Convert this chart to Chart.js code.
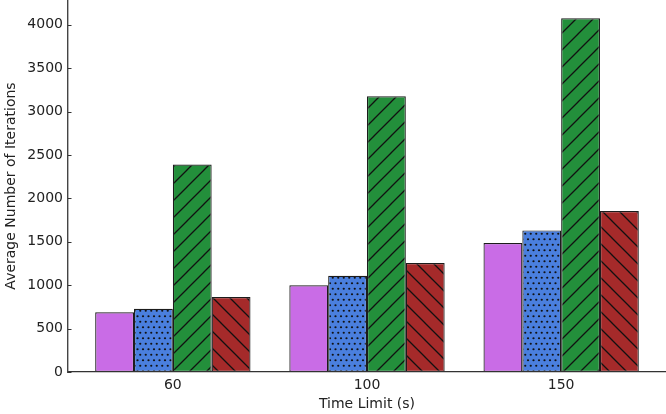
<!DOCTYPE html>
<html>
<head>
<meta charset="utf-8">
<script src="https://cdn.jsdelivr.net/npm/chart.js@4"></script>
<style>
html,body{margin:0;padding:0;background:#fff;}
canvas{display:block;}
</style>
</head>
<body>
<canvas id="c" width="666" height="414"></canvas>
<script>
const categories = ['60', '100', '150'];
const seriesPurple = [687, 998, 1486];
const seriesBlue = [729, 1109, 1631];
const seriesGreen = [2390, 3175, 4074];
const seriesRed = [864, 1256, 1855];
const yTicks = [0, 500, 1000, 1500, 2000, 2500, 3000, 3500, 4000];

function makeTile(w, h, bg, drawFn) {
  const c = document.createElement('canvas');
  c.width = w; c.height = h;
  const g = c.getContext('2d');
  g.fillStyle = bg; g.fillRect(0, 0, w, h);
  drawFn(g, w, h);
  return g.createPattern(c, 'repeat');
}
function diag(bg, forward) {
  const s = 17;
  return makeTile(s, s, bg, (g) => {
    g.strokeStyle = '#111'; g.lineWidth = 1.3;
    g.beginPath();
    for (let k = -1; k <= 1; k++) {
      if (forward) { g.moveTo(-2 + k * s, s + 2); g.lineTo(s + 2 + k * s, -2); }
      else { g.moveTo(-2 + k * s, -2); g.lineTo(s + 2 + k * s, s + 2); }
    }
    g.stroke();
  });
}
function dots(bg) {
  const s = 11;
  return makeTile(s, s, bg, (g) => {
    g.fillStyle = '#111';
    const pts = [[2.75, 2.75], [8.25, 2.75], [0, 8.25], [5.5, 8.25], [11, 8.25]];
    pts.forEach(([x, y]) => { g.beginPath(); g.arc(x, y, 1.1, 0, Math.PI * 2); g.fill(); });
  });
}

const toXY = (arr) => arr.map((v, i) => ({ x: i, y: v }));
const edge = '#1c1c1c';
const ds = (label, data, bg) => ({
  label, data: toXY(data), backgroundColor: bg, borderColor: edge, borderWidth: 1.2,
  borderSkipped: false, categoryPercentage: 0.8, barPercentage: 1.0
});

const innerTicks = {
  id: 'innerTicks',
  afterDraw(chart) {
    const y = chart.scales.y, ctx = chart.ctx;
    ctx.save();
    ctx.strokeStyle = '#333'; ctx.lineWidth = 1;
    y.ticks.forEach((t) => {
      const py = Math.round(y.getPixelForValue(t.value)) + 0.5;
      ctx.beginPath(); ctx.moveTo(y.right, py); ctx.lineTo(y.right + 3.5, py); ctx.stroke();
    });
    ctx.restore();
  }
};

const font = { family: 'DejaVu Sans', size: 14 };
new Chart(document.getElementById('c'), {
  type: 'bar',
  data: {
    datasets: [
      ds('A', seriesPurple, '#c96ce6'),
      ds('B', seriesBlue, dots('#4a7fde')),
      ds('C', seriesGreen, diag('#238f3b', true)),
      ds('D', seriesRed, diag('#a52a2a', false))
    ]
  },
  options: {
    responsive: false,
    animation: false,
    layout: { padding: 0 },
    plugins: { legend: { display: false }, tooltip: { enabled: false } },
    scales: {
      x: {
        type: 'linear', min: -0.54, max: 2.54, offset: false,
        grid: { display: false, drawTicks: false },
        border: { display: true, color: '#333', width: 1.2, z: 1 },
        afterBuildTicks: (s) => { s.ticks = categories.map((c, i) => ({ value: i })); },
        ticks: { font, color: '#222', padding: 5, maxRotation: 0, autoSkip: false,
          callback: (v) => categories[v] },
        title: { display: true, text: 'Time Limit (s)', font, color: '#222', padding: { top: 0, bottom: 1 } },
        afterFit: (s) => { s.height = 42; s.paddingLeft = 0; s.paddingRight = 0; }
      },
      y: {
        type: 'linear', min: 0, max: 4285,
        grid: { display: false, drawTicks: false },
        border: { display: true, color: '#444', width: 1.4, z: 1 },
        afterBuildTicks: (s) => { s.ticks = yTicks.map((v) => ({ value: v })); },
        ticks: { font, color: '#222', padding: 5, includeBounds: false,
          callback: (v) => String(v) },
        title: { display: true, text: 'Average Number of Iterations', font, color: '#222', padding: { top: 3, bottom: 0 } },
        afterFit: (s) => { s.width = 68; s.paddingTop = 0; s.paddingBottom = 0; }
      }
    }
  },
  plugins: [innerTicks]
});
</script>
</body>
</html>
